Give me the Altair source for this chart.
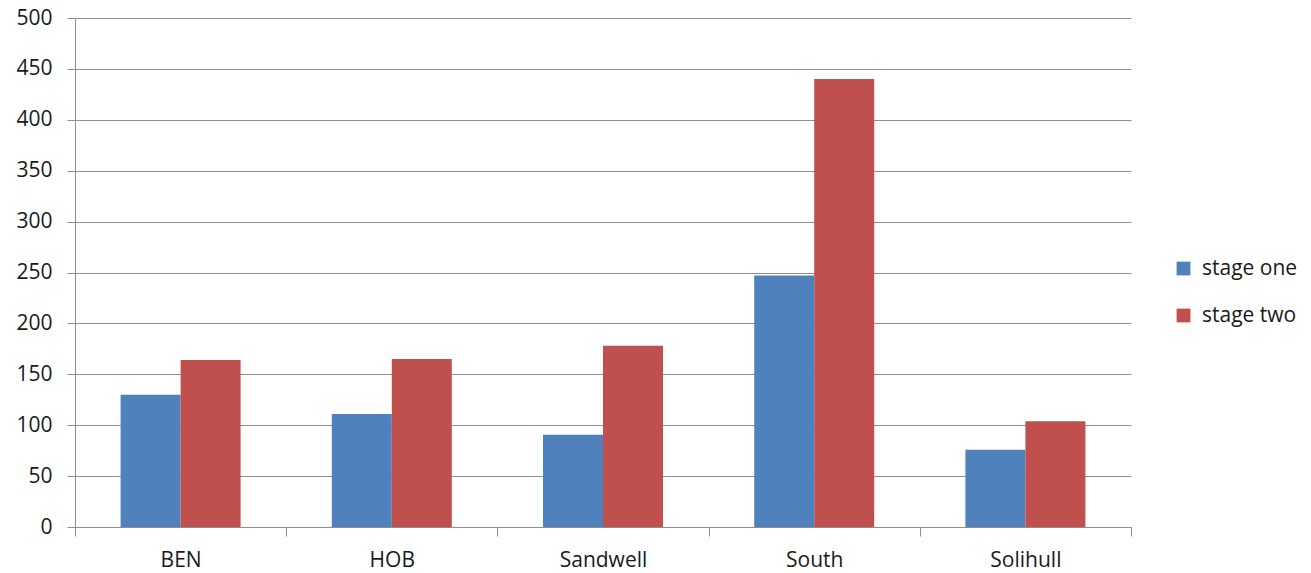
import altair as alt
import pandas as pd

# Values per region for the two stages
regions = ["BEN", "HOB", "Sandwell", "South", "Solihull"]
stages = ["stage one", "stage two"]
stage_one = [130, 111, 90.5, 247, 76]
stage_two = [164, 165, 178, 440, 104]
y_ticks = [0, 50, 100, 150, 200, 250, 300, 350, 400, 450, 500]

rows = []
for r, a, b in zip(regions, stage_one, stage_two):
    rows.append({"region": r, "stage": stages[0], "value": a})
    rows.append({"region": r, "stage": stages[1], "value": b})
df = pd.DataFrame(rows)

FONT = "Open Sans"
GRID = "#8e8e8e"
TEXT = "#1a1a1a"

chart = (
    alt.Chart(df)
    .mark_bar()
    .encode(
        x=alt.X(
            "region:N",
            sort=regions,
            title=None,
            # full-width bands so the ticks fall on category boundaries
            scale=alt.Scale(paddingInner=0, paddingOuter=0),
            axis=alt.Axis(
                labelAngle=0,
                labelFontSize=21,
                labelFont=FONT,
                labelColor=TEXT,
                labelPadding=13,
                tickBand="extent",
                tickSize=9,
                tickColor=GRID,
                domainColor=GRID,
                grid=False,
            ),
        ),
        # bars take the middle part of each band
        xOffset=alt.XOffset(
            "stage:N", sort=stages, scale=alt.Scale(paddingInner=0, paddingOuter=0.76)
        ),
        y=alt.Y(
            "value:Q",
            title=None,
            scale=alt.Scale(domain=[0, 500], nice=False),
            axis=alt.Axis(
                values=y_ticks,
                labelFontSize=21,
                labelFont=FONT,
                labelColor=TEXT,
                labelPadding=15,
                tickSize=8,
                tickColor=GRID,
                domainColor=GRID,
                gridColor=GRID,
                grid=True,
            ),
        ),
        color=alt.Color(
            "stage:N",
            sort=stages,
            scale=alt.Scale(domain=stages, range=["#4f81bd", "#c0504d"]),
            legend=alt.Legend(
                title=None,
                orient="none",
                legendX=1098,
                legendY=240,
                symbolType="square",
                symbolSize=190,
                symbolStrokeWidth=0,
                labelFontSize=21,
                labelFont=FONT,
                labelColor=TEXT,
                labelOffset=8,
                rowPadding=25,
            ),
        ),
    )
    .properties(
        width=1056,
        height=509,
        padding={"left": 75, "top": 18, "right": 180, "bottom": 46},
        autosize=alt.AutoSizeParams(type="none"),
    )
    .configure_view(stroke=None)
    .configure_axis(domainWidth=1, tickWidth=1, gridWidth=1)
)

chart.save("out.html", embed_options={"renderer": "svg", "actions": False})
